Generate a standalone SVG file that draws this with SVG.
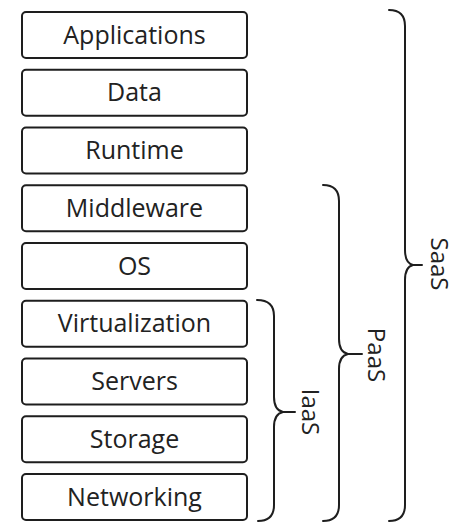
<svg xmlns="http://www.w3.org/2000/svg" width="458" height="529" viewBox="0 0 458 529">
<style>
.box{fill:#fff;stroke:#1e1e1e;stroke-width:2}
.t{font-family:"Open Sans","Noto Sans",sans-serif;font-size:25px;fill:#222;text-anchor:middle}
.lbl{font-family:"Open Sans","Noto Sans",sans-serif;font-size:24px;fill:#222;text-anchor:middle}
.brace{fill:none;stroke:#1e1e1e;stroke-width:2;stroke-linecap:round;stroke-linejoin:round}
</style>
<rect width="458" height="529" fill="#fff"/>
<g id="applications"><rect class="box" x="22" y="12" width="225" height="46" rx="4"/><text class="t" x="134.5" y="43.5">Applications</text></g>
<g id="data"><rect class="box" x="22" y="69.75" width="225" height="46" rx="4"/><text class="t" x="134.5" y="101.25">Data</text></g>
<g id="runtime"><rect class="box" x="22" y="127.5" width="225" height="46" rx="4"/><text class="t" x="134.5" y="159">Runtime</text></g>
<g id="middleware"><rect class="box" x="22" y="185.25" width="225" height="46" rx="4"/><text class="t" x="134.5" y="216.75">Middleware</text></g>
<g id="os"><rect class="box" x="22" y="243" width="225" height="46" rx="4"/><text class="t" x="134.5" y="274.5">OS</text></g>
<g id="virtualization"><rect class="box" x="22" y="300.75" width="225" height="46" rx="4"/><text class="t" x="134.5" y="332.25">Virtualization</text></g>
<g id="servers"><rect class="box" x="22" y="358.5" width="225" height="46" rx="4"/><text class="t" x="134.5" y="390">Servers</text></g>
<g id="storage"><rect class="box" x="22" y="416.25" width="225" height="46" rx="4"/><text class="t" x="134.5" y="447.75">Storage</text></g>
<g id="networking"><rect class="box" x="22" y="474" width="225" height="46" rx="4"/><text class="t" x="134.5" y="505.5">Networking</text></g>
<g id="connectors">
<path class="brace" d="M257,300 Q274,300 274,316 V397 Q274,410 283,412 H295 M283,412 Q274,414 274,427 V505 Q274,521 258,521"/>
<path class="brace" d="M323,185 Q339,185 339,201 V339 Q339,352 348,354 H362 M348,354 Q339,356 339,369 V505 Q339,521 323,521"/>
<path class="brace" d="M389,10 Q405,10 405,26 V250 Q405,263 413,265 H422 M413,265 Q405,267 405,280 V505 Q405,521 389,521"/>
</g>
<g id="iaas"><text class="lbl" transform="translate(302,412) rotate(90)">IaaS</text></g>
<g id="paas"><text class="lbl" transform="translate(368,355) rotate(90)">PaaS</text></g>
<g id="saas"><text class="lbl" transform="translate(431,264) rotate(90)">SaaS</text></g>
</svg>
